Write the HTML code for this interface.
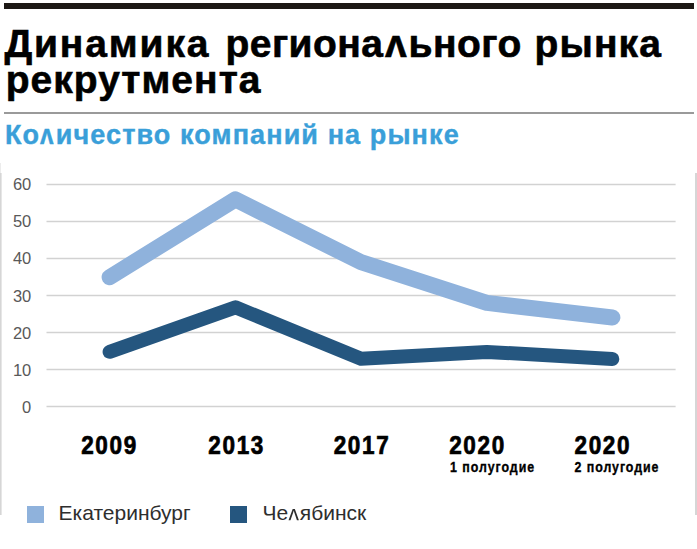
<!DOCTYPE html>
<html><head><meta charset="utf-8">
<style>
html,body{margin:0;padding:0;background:#fff;}
body{width:697px;height:549px;position:relative;overflow:hidden;font-family:"Liberation Sans",sans-serif;}
.abs{position:absolute;}
.l,.lb{position:relative;color:transparent;-webkit-text-stroke-color:transparent;}
.lb{margin-right:-2px;}
.l::after{content:"\028C";position:absolute;left:1.5px;top:0;line-height:1.117em;color:#000;-webkit-text-stroke:0.6px #000;}
.lb::after{content:"\028C";position:absolute;left:0.7px;top:0;line-height:1.117em;transform:scaleX(0.9);transform-origin:0 0;color:#3a9fd9;-webkit-text-stroke:0.4px #3a9fd9;}
#bar{left:4px;top:3px;width:690px;height:6px;background:#1d1815;}
.t{top:25.5px;font-weight:bold;font-size:39px;line-height:36px;color:#000;white-space:nowrap;-webkit-text-stroke:0.6px #000;}
#rule{left:4px;top:112px;width:690px;height:2px;background:#9a9a9a;}
#sub{left:5px;top:120px;font-weight:bold;font-size:27px;line-height:30px;letter-spacing:1.11px;-webkit-text-stroke:0.4px #3a9fd9;color:#3a9fd9;white-space:nowrap;}
#fl{left:0;top:173px;width:2px;height:342px;background:linear-gradient(to right,#d6d6d6 50%,#e6e6e6 50%);}
#fl2{left:0;top:163px;width:1px;height:10px;background:#ececec;}
#fr{left:695px;top:173px;width:2px;height:342px;background:#d6d6d6;}
</style></head>
<body>
<div id="bar" class="abs"></div>
<div class="abs t" style="left:4.4px;letter-spacing:1.86px">Динамика</div>
<div class="abs t" style="left:225.5px;letter-spacing:0.44px">региона<span class="l">л</span>ьного</div>
<div class="abs t" style="left:534.6px;letter-spacing:1.1px">рынка</div>
<div class="abs t" style="left:5.7px;top:61.5px;letter-spacing:1.03px">рекрутмента</div>
<div id="rule" class="abs"></div>
<div id="sub" class="abs">Ко<span class="lb">л</span>ичество компаний на рынке</div>
<div id="fl" class="abs"></div>
<div id="fl2" class="abs"></div>
<div id="fr" class="abs"></div>
<svg class="abs" style="left:0;top:0" width="697" height="549" viewBox="0 0 697 549">
  <g stroke="#d2d2d2" stroke-width="1.5">
    <line x1="46.5" y1="184.4" x2="675.6" y2="184.4"/>
    <line x1="46.5" y1="221.4" x2="675.6" y2="221.4"/>
    <line x1="46.5" y1="258.4" x2="675.6" y2="258.4"/>
    <line x1="46.5" y1="295.5" x2="675.6" y2="295.5"/>
    <line x1="46.5" y1="332.5" x2="675.6" y2="332.5"/>
    <line x1="46.5" y1="369.5" x2="675.6" y2="369.5"/>
    <line x1="46.5" y1="406.5" x2="675.6" y2="406.5"/>
  </g>
  <g font-family="Liberation Sans" font-size="16.5" fill="#595959" text-anchor="end">
    <text x="31.3" y="190.2">60</text>
    <text x="31.3" y="227.3">50</text>
    <text x="31.3" y="264.4">40</text>
    <text x="31.3" y="301.5">30</text>
    <text x="31.3" y="338.6">20</text>
    <text x="31.3" y="375.7">10</text>
    <text x="31.3" y="412.8">0</text>
  </g>
  <polyline fill="none" stroke="#8fb2dc" stroke-width="16" stroke-linecap="round" stroke-linejoin="round"
    points="109.6,277.2 235.4,199.4 361,262.2 486.8,302.9 612.4,317.5"/>
  <polyline fill="none" stroke="#25567f" stroke-width="14" stroke-linecap="round" stroke-linejoin="round"
    points="109.6,351.8 235.4,307.3 361,358.7 486.8,351.9 612.3,359"/>
  <g font-family="Liberation Sans" font-weight="bold" fill="#000" stroke="#000" stroke-width="0.7" font-size="25" letter-spacing="1.85">
    <text transform="translate(81.2,453.8) scale(0.9,1)">2009</text>
    <text transform="translate(208.3,453.8) scale(0.9,1)">2013</text>
    <text transform="translate(333.7,453.8) scale(0.9,1)">2017</text>
    <text transform="translate(449.2,453.8) scale(0.9,1)">2020</text>
    <text transform="translate(574.5,453.8) scale(0.9,1)">2020</text>
  </g>
  <g font-family="Liberation Sans" font-weight="bold" fill="#000" stroke="#000" stroke-width="0.35" font-size="15.5" letter-spacing="1.2">
    <text transform="translate(450.1,471.6) scale(0.8,1)">1 полугодие</text>
    <text transform="translate(574.5,471.6) scale(0.8,1)">2 полугодие</text>
  </g>
  <rect x="27" y="506" width="17" height="17" fill="#8fb2dc"/>
  <rect x="230" y="506" width="17" height="17" fill="#25567f"/>
  <g font-family="Liberation Sans" font-size="21" fill="#2e2e2e">
    <text x="58.6" y="520.2">Екатеринбург</text>
    <text id="chel" x="262.6" y="520.2">Че<tspan fill="transparent">л</tspan>ябинск</text>
  </g>
  <path transform="translate(288.46,520.2) scale(0.010254,-0.010254)" fill="#2e2e2e" d="M411 1082H624L1017 0H825L570 758L518 941L483 824L444 706L198 0H7Z"/>
</svg>
</body></html>
